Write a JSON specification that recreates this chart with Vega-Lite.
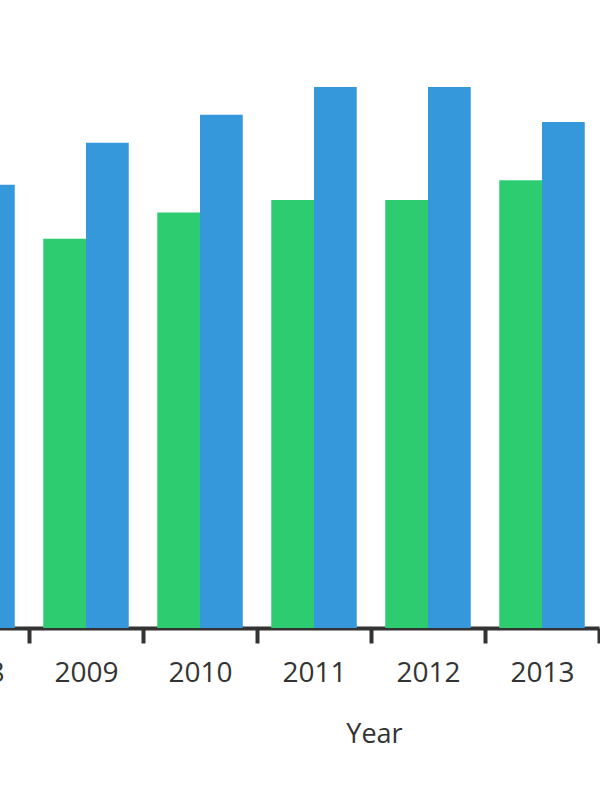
{
  "$schema": "https://vega.github.io/schema/vega-lite/v6.json",
  "width": 600,
  "height": 628,
  "autosize": {"type": "none"},
  "padding": {"left": 0, "top": 0, "right": 0, "bottom": 172},
  "background": "white",
  "config": {"view": {"stroke": null}, "font": "Open Sans"},
  "data": {"values": [
    {"Year": "2008", "series": "A", "value": 42.0},
    {"Year": "2008", "series": "B", "value": 49.4},
    {"Year": "2009", "series": "A", "value": 43.4},
    {"Year": "2009", "series": "B", "value": 54.1},
    {"Year": "2010", "series": "A", "value": 46.3},
    {"Year": "2010", "series": "B", "value": 57.2},
    {"Year": "2011", "series": "A", "value": 47.7},
    {"Year": "2011", "series": "B", "value": 60.3},
    {"Year": "2012", "series": "A", "value": 47.7},
    {"Year": "2012", "series": "B", "value": 60.3},
    {"Year": "2013", "series": "A", "value": 49.9},
    {"Year": "2013", "series": "B", "value": 56.4}
  ]},
  "mark": {"type": "bar", "clip": false},
  "encoding": {
    "x": {
      "field": "Year", "type": "nominal",
      "scale": {"domain": ["2008","2009","2010","2011","2012","2013"], "range": [-85, 599], "paddingInner": 0.25, "paddingOuter": 0.125},
      "axis": {
        "title": "Year", "labelAngle": 0, "tickBand": "center", "tickOffset": 57, "labelOffset": -57,
        "domainColor": "#333333", "domainWidth": 4,
        "tickColor": "#333333", "tickWidth": 4, "tickSize": 15,
        "labelFontSize": 28, "labelColor": "#333333", "labelPadding": 16,
        "labelFont": "Open Sans", "titleFont": "Open Sans",
        "titleFontSize": 27, "titleFontWeight": "normal", "titleColor": "#333333", "titlePadding": 34,
        "titleX": 374, "titleAlign": "center"
      }
    },
    "xOffset": {"field": "series", "type": "nominal", "scale": {"paddingInner": 0}},
    "y": {"field": "value", "type": "quantitative", "scale": {"domain": [0, 70]}, "axis": null},
    "color": {"field": "series", "type": "nominal", "scale": {"domain": ["A","B"], "range": ["#2ecc71", "#3498db"]}, "legend": null}
  }
}
